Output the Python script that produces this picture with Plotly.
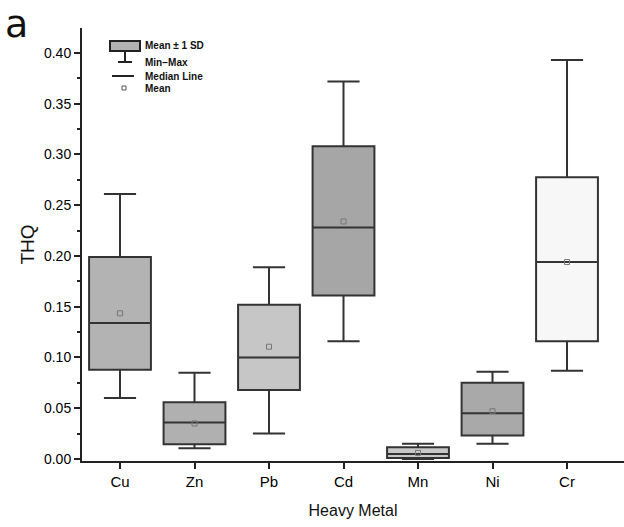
import plotly.graph_objects as go

metals = ["Cu", "Zn", "Pb", "Cd", "Mn", "Ni", "Cr"]
mins = [0.060, 0.0105, 0.025, 0.116, 0.000, 0.015, 0.087]
q1s = [0.088, 0.0145, 0.068, 0.161, 0.001, 0.023, 0.116]
medians = [0.134, 0.036, 0.100, 0.228, 0.005, 0.045, 0.194]
q3s = [0.199, 0.056, 0.152, 0.308, 0.0115, 0.075, 0.2775]
maxs = [0.261, 0.085, 0.189, 0.372, 0.015, 0.086, 0.393]
means = [0.1435, 0.035, 0.1106, 0.234, 0.006, 0.047, 0.194]
fills = ["#b3b3b3", "#b0b0b0", "#c6c6c6", "#a6a6a6", "#c8c8c8", "#a9a9a9", "#f7f7f7"]
yticks = [0.00, 0.05, 0.10, 0.15, 0.20, 0.25, 0.30, 0.35, 0.40]

FONT = "Liberation Sans, Arial, sans-serif"
fig = go.Figure()
for i, m in enumerate(metals):
    fig.add_trace(go.Box(
        x=[m], q1=[q1s[i]], median=[medians[i]], q3=[q3s[i]],
        lowerfence=[mins[i]], upperfence=[maxs[i]],
        fillcolor=fills[i], line=dict(color="#333333", width=2),
        width=0.83, whiskerwidth=0.52, boxpoints=False, showlegend=False,
        hoverinfo="skip"))
fig.add_trace(go.Scatter(
    x=metals, y=means, mode="markers",
    marker=dict(symbol="square-open", size=5, color="#777777", line=dict(width=1)),
    showlegend=False, hoverinfo="skip"))

# custom legend (pixel-based paper coordinates)
W, H = 624, 527
L, R, T, B = 82, 0, 28, 66
pw, ph = W - L - R, H - T - B
def px(xp):
    return (xp - L) / pw
def py(yp):
    return 1 - (yp - T) / ph

shapes = [
    dict(type="rect", xref="paper", yref="paper", x0=px(110), x1=px(140), y0=py(51), y1=py(41),
         fillcolor="#b3b3b3", line=dict(color="#222", width=2)),
    dict(type="line", xref="paper", yref="paper", x0=px(125), x1=px(125), y0=py(51), y1=py(62),
         line=dict(color="#222", width=2)),
    dict(type="line", xref="paper", yref="paper", x0=px(118), x1=px(132), y0=py(62), y1=py(62),
         line=dict(color="#222", width=2)),
    dict(type="line", xref="paper", yref="paper", x0=px(112), x1=px(134), y0=py(76), y1=py(76),
         line=dict(color="#222", width=2)),
    dict(type="rect", xref="paper", yref="paper", x0=px(122), x1=px(126), y0=py(90), y1=py(86),
         fillcolor="white", line=dict(color="#555", width=1)),
]
annos = []
for txt, yp in [("Mean ± 1 SD", 46), ("Min−Max", 62), ("Median Line", 76), ("Mean", 88)]:
    annos.append(dict(text="<b>" + txt + "</b>", x=px(143), y=py(yp), xref="paper", yref="paper",
                      xanchor="left", yanchor="middle", showarrow=False,
                      font=dict(family=FONT, size=10, color="#111")))
annos.append(dict(text="a", x=px(3), y=py(0), xref="paper", yref="paper", showarrow=False,
                  xanchor="left", yanchor="top",
                  font=dict(family="DejaVu Sans, sans-serif", size=38, color="#111")))

fig.update_layout(
    width=W, height=H, margin=dict(l=L, r=R, t=T, b=B),
    paper_bgcolor="white", plot_bgcolor="white",
    shapes=shapes, annotations=annos,
    font=dict(family=FONT, color="#111"),
    xaxis=dict(type="category", range=[-0.51, 6.765], showline=True, linecolor="#222", linewidth=2,
               ticks="outside", ticklen=6, tickwidth=1.5, tickcolor="#222", showgrid=False,
               tickfont=dict(size=15, family=FONT, color="#000"),
               title=dict(text="Heavy Metal", font=dict(size=16, family=FONT), standoff=16)),
    yaxis=dict(range=[-0.002, 0.4246], showline=True, linecolor="#222", linewidth=2,
               tickvals=yticks, ticktext=[f"{v:.2f}" for v in yticks],
               ticks="outside", ticklen=6, tickwidth=1.5, tickcolor="#222", showgrid=False,
               zeroline=False,
               minor=dict(dtick=0.025, ticks="outside", ticklen=3, tickcolor="#222"),
               tickfont=dict(size=14, family=FONT, color="#000"),
               title=dict(text="THQ", font=dict(size=19, family=FONT), standoff=4)),
)
fig.write_html("out.html")
